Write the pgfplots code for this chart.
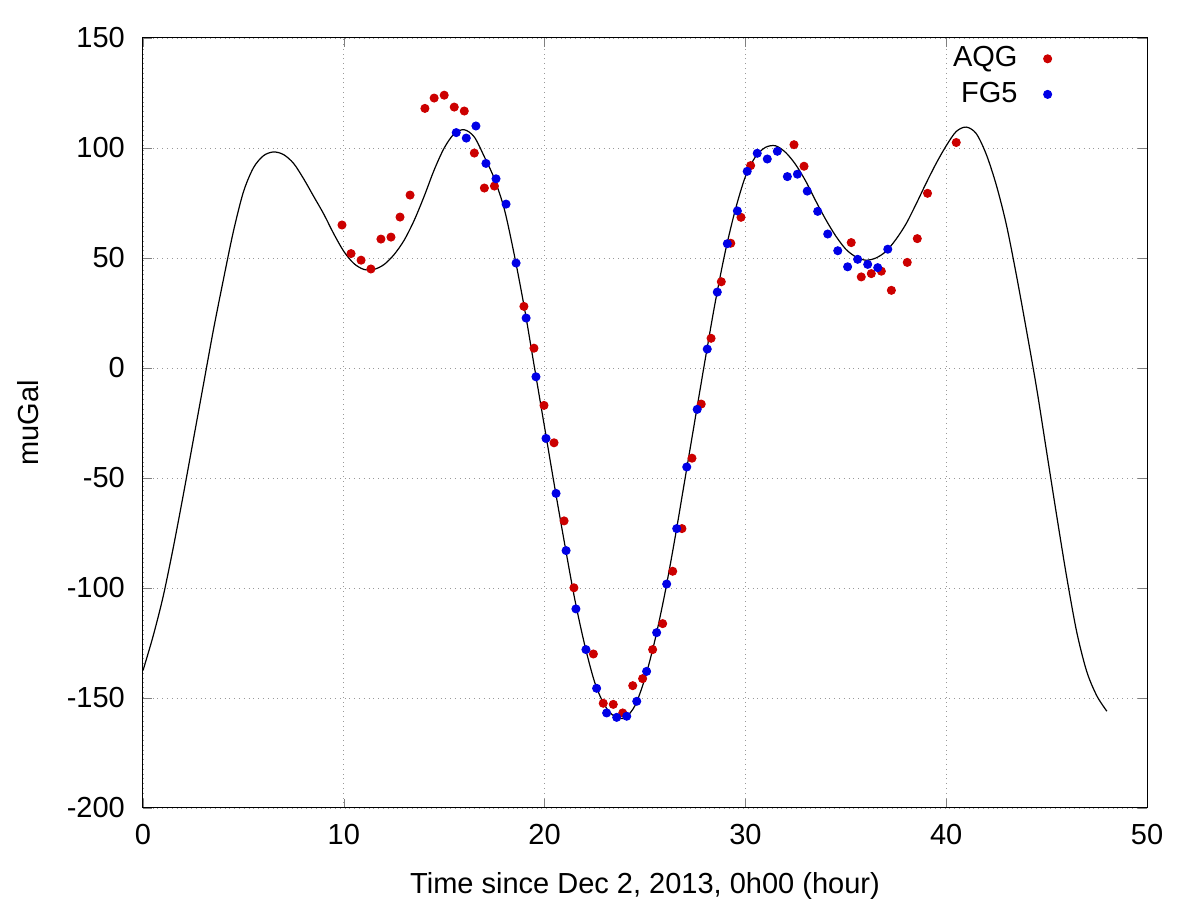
\documentclass[border=0pt]{standalone}
\usepackage{pgfplots}
\pgfplotsset{compat=1.18}
\usepackage{fontspec}
\setmainfont{Liberation Sans}
\definecolor{aqg}{RGB}{204,0,0}
\definecolor{fgf}{RGB}{0,0,230}
\begin{document}
\fontsize{14.5}{17}\selectfont
\begin{tikzpicture}
\begin{axis}[
  scale only axis, width=502pt, height=385pt,
  xmin=0, xmax=50, ymin=-200, ymax=150,
  xtick={0,10,...,50}, ytick={-200,-150,...,150},
  tick align=inside, tick pos=both,
  grid=major, grid style={dotted, gray!80},
  axis line style={black}, line width=0.5pt,
  /pgf/number format/assume math mode=true,
  ticklabel style={font=\fontsize{14.5}{17}\selectfont},
  yticklabel style={xshift=-4pt},
  xticklabel style={yshift=-3pt},
  xlabel={Time since Dec 2, 2013, 0h00 (hour)},
  ylabel={muGal},
  xlabel style={yshift=-4pt},
  ylabel style={yshift=4pt},
  legend style={draw=none, fill=none, at={(axis cs:45.6,150)}, anchor=north east, font=\fontsize{14.5}{17}\selectfont, row sep=1.5pt},
  legend plot pos=right, legend cell align=right,
  legend image code/.code={\path (0,0) (0.5cm,0); \fill[#1] (0.45cm,0) circle (2pt);},
]
\addplot[only marks, mark=*, mark size=2pt, color=aqg] coordinates {
(9.91,65) (10.36,52) (10.86,49) (11.35,45) (11.85,58.6) (12.35,59.5) (12.8,68.6) (13.3,78.6)
(14.04,118) (14.5,122.7) (15.0,124) (15.5,118.6) (16.0,116.8) (16.5,97.7) (17.0,81.8) (17.5,82.7)
(18.97,28) (19.47,9) (19.97,-17) (20.47,-34) (20.97,-69.5) (21.46,-99.9) (22.43,-130) (22.92,-152.4)
(23.42,-152.9) (23.89,-156.8) (24.39,-144.4) (24.88,-141.2) (25.38,-128) (25.88,-116.2) (26.38,-92.4) (26.84,-73)
(27.34,-41) (27.8,-16.4) (28.29,13.5) (28.8,39.2) (29.27,56.7) (29.78,68.5) (30.26,92) (32.42,101.5)
(32.92,91.7) (35.27,57) (35.77,41.4) (36.27,42.9) (36.77,44) (37.27,35.3) (38.06,48) (38.56,58.8)
(39.07,79.4) (40.5,102.5)
};
\addlegendentry{AQG}
\addplot[only marks, mark=*, mark size=2pt, color=fgf] coordinates {
(15.6,107) (16.1,104.5) (16.58,110) (17.08,93) (17.58,86) (18.08,74.5) (18.58,47.7) (19.08,22.7)
(19.57,-4) (20.07,-32) (20.57,-57) (21.07,-83) (21.56,-109.5) (22.06,-128) (22.59,-145.6) (23.09,-156.8)
(23.59,-158.8) (24.09,-158.3) (24.59,-151.5) (25.08,-137.9) (25.58,-120.3) (26.08,-98.2) (26.58,-73) (27.08,-45)
(27.60,-18.8) (28.10,8.6) (28.60,34.5) (29.10,56.5) (29.60,71.4) (30.09,89.4) (30.59,97.6) (31.09,95)
(31.59,98.5) (32.09,87) (32.59,88.1) (33.08,80.4) (33.60,71.2) (34.10,60.9) (34.60,53.3) (35.09,46)
(35.59,49.4) (36.09,47.1) (36.59,45.6) (37.09,54)
};
\addlegendentry{FG5}
\addplot[black, line width=0.6pt, smooth, tension=0.5, forget plot] coordinates {
(0,-137.5) (0.5,-122) (1,-104) (1.5,-82) (2,-58) (2.5,-33) (3,-8) (3.5,17) (4,40) (4.5,62)
(5,80) (5.5,91) (6,96.5) (6.5,98.2) (7,97) (7.5,93) (8,86) (8.5,78) (9,70) (9.5,61) (10,53)
(10.5,47.5) (11,44.8) (11.5,44.8) (12,47) (12.5,51.5) (13,58) (13.5,67) (14,78) (14.5,90) (15,100)
(15.5,106.5) (16,108.3) (16.5,105) (17,96) (17.5,86) (18,72) (18.5,51) (19,27) (19.5,0) (20,-27)
(20.5,-54) (21,-80) (21.5,-105) (22,-126) (22.5,-143) (23,-153.5) (23.5,-158.5) (24,-159) (24.5,-153.5)
(25,-141) (25.5,-123.5) (26,-102) (26.5,-77) (27,-50) (27.5,-23) (28,4) (28.5,30) (29,53) (29.5,72)
(30,87) (30.5,96) (31,100.3) (31.5,101) (32,98) (32.5,92.5) (33,85) (33.5,76) (34,67.5) (34.5,60)
(35,54) (35.5,50.5) (36,49) (36.5,50) (37,53) (37.5,58.5) (38,65.5) (38.5,74.5) (39,84) (39.5,93)
(40,101) (40.5,107.5) (41,109.5) (41.5,106.5) (42,97) (42.5,83) (43,65) (43.5,42) (44,17) (44.5,-9)
(45,-38) (45.5,-67) (46,-95) (46.5,-120) (47,-138) (47.5,-149) (48,-156)
};
\end{axis}
\pgfresetboundingbox
\path (current axis.south west) ++(-71.5pt,-47.5pt) rectangle ([shift={(26.5pt,19pt)}]current axis.north east);
\end{tikzpicture}
\end{document}
